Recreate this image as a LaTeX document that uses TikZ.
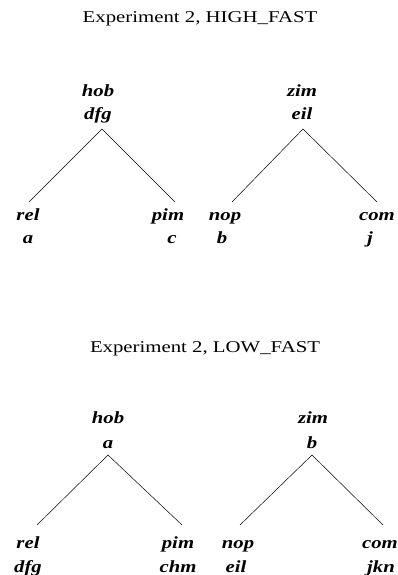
\documentclass[tikz,border=0pt]{standalone}
\usepackage{fontspec}
\setmainfont{Liberation Serif}
\newcommand{\wide}[1]{\scalebox{1.22}[1]{#1}}
\newcommand{\widet}[1]{\scalebox{1.26}[1]{#1}}
\tikzset{
  title/.style={anchor=base, inner sep=0pt, font=\fontsize{16.5}{17}\selectfont},
  lbl/.style={anchor=base, inner sep=0pt, font=\fontsize{17}{18}\selectfont\bfseries\itshape},
  edge/.style={draw=black, line width=0.5pt}
}
\begin{document}
\begin{tikzpicture}[x=1pt, y=-1pt]
\useasboundingbox (0,0) rectangle (398,575);

% ---------- first experiment ----------
\node[title] (t1) at (200,23) {\widet{Experiment 2, HIGH\_FAST}};

\node[lbl] (h1)  at (98,97)   {\wide{hob}};
\node[lbl] (h1v) at (98,120)  {\wide{dfg}};
\node[lbl] (r1)  at (28,220)  {\wide{rel}};
\node[lbl] (r1v) at (28,243)  {\wide{a}};
\node[lbl] (p1)  at (168,220) {\wide{pim}};
\node[lbl] (p1v) at (172,243) {\wide{c}};
\coordinate (h1a) at (102,129);
\coordinate (r1a) at (29,202);
\coordinate (p1a) at (175,202);
\draw[edge] (r1a) -- (h1a) -- (p1a);

\node[lbl] (z1)  at (302,97)  {\wide{zim}};
\node[lbl] (z1v) at (302,120) {\wide{eil}};
\node[lbl] (n1)  at (225,220) {\wide{nop}};
\node[lbl] (n1v) at (222,243) {\wide{b}};
\node[lbl] (c1)  at (377,220) {\wide{com}};
\node[lbl] (c1v) at (370,243) {\wide{j}};
\coordinate (z1a) at (303,129);
\coordinate (n1a) at (232,202);
\coordinate (c1a) at (377,202);
\draw[edge] (n1a) -- (z1a) -- (c1a);

% ---------- second experiment ----------
\node[title] (t2) at (205,352) {\widet{Experiment 2, LOW\_FAST}};

\node[lbl] (h2)  at (108,423) {\wide{hob}};
\node[lbl] (h2v) at (108,448) {\wide{a}};
\node[lbl] (r2)  at (28,548)  {\wide{rel}};
\node[lbl] (r2v) at (28,572)  {\wide{dfg}};
\node[lbl] (p2)  at (178,548) {\wide{pim}};
\node[lbl] (p2v) at (178,572) {\wide{chm}};
\coordinate (h2a) at (108,455);
\coordinate (r2a) at (37,525);
\coordinate (p2a) at (182,525);
\draw[edge] (r2a) -- (h2a) -- (p2a);

\node[lbl] (z2)  at (313,423) {\wide{zim}};
\node[lbl] (z2v) at (312,448) {\wide{b}};
\node[lbl] (n2)  at (238,548) {\wide{nop}};
\node[lbl] (n2v) at (236,572) {\wide{eil}};
\node[lbl] (c2)  at (380,548) {\wide{com}};
\node[lbl] (c2v) at (381,572) {\wide{jkn}};
\coordinate (z2a) at (312,455);
\coordinate (n2a) at (240,525);
\coordinate (c2a) at (383,525);
\draw[edge] (n2a) -- (z2a) -- (c2a);
\end{tikzpicture}
\end{document}
